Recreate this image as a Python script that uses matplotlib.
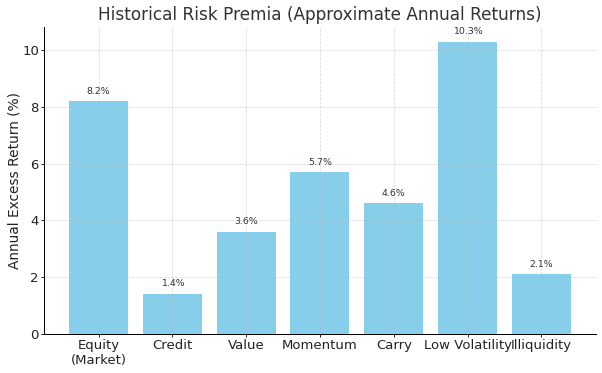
import matplotlib.pyplot as plt
import numpy as np

factors = ["Equity\n(Market)", "Credit", "Value", "Momentum", "Carry", "Low Volatility", "Illiquidity"]
returns = [8.2, 1.4, 3.6, 5.7, 4.6, 10.3, 2.1]

dpi = 90
fig, ax = plt.subplots(figsize=(602 / dpi, 373 / dpi), dpi=dpi)

bars = ax.bar(factors, returns, color='skyblue')

# value labels above each bar
for b, v in zip(bars, returns):
    ax.text(b.get_x() + b.get_width() / 2, v + 0.2, f"{v}%",
            ha='center', va='bottom', fontsize=7.5, color='#333333')

ax.set_title("Historical Risk Premia (Approximate Annual Returns)", fontsize=13.5, color='#333333')
ax.set_ylabel("Annual Excess Return (%)", fontsize=11, color='#222222', labelpad=0.5)
ax.tick_params(axis='both', labelsize=10.6, colors='#222222', length=2.5, pad=1.5)
ax.grid(True, linestyle='--', linewidth=0.6, alpha=0.5)
ax.spines['top'].set_visible(False)
ax.spines['right'].set_visible(False)

fig.subplots_adjust(left=0.073, right=0.99, top=0.927, bottom=0.105)
fig.savefig("out.png", dpi=dpi)
